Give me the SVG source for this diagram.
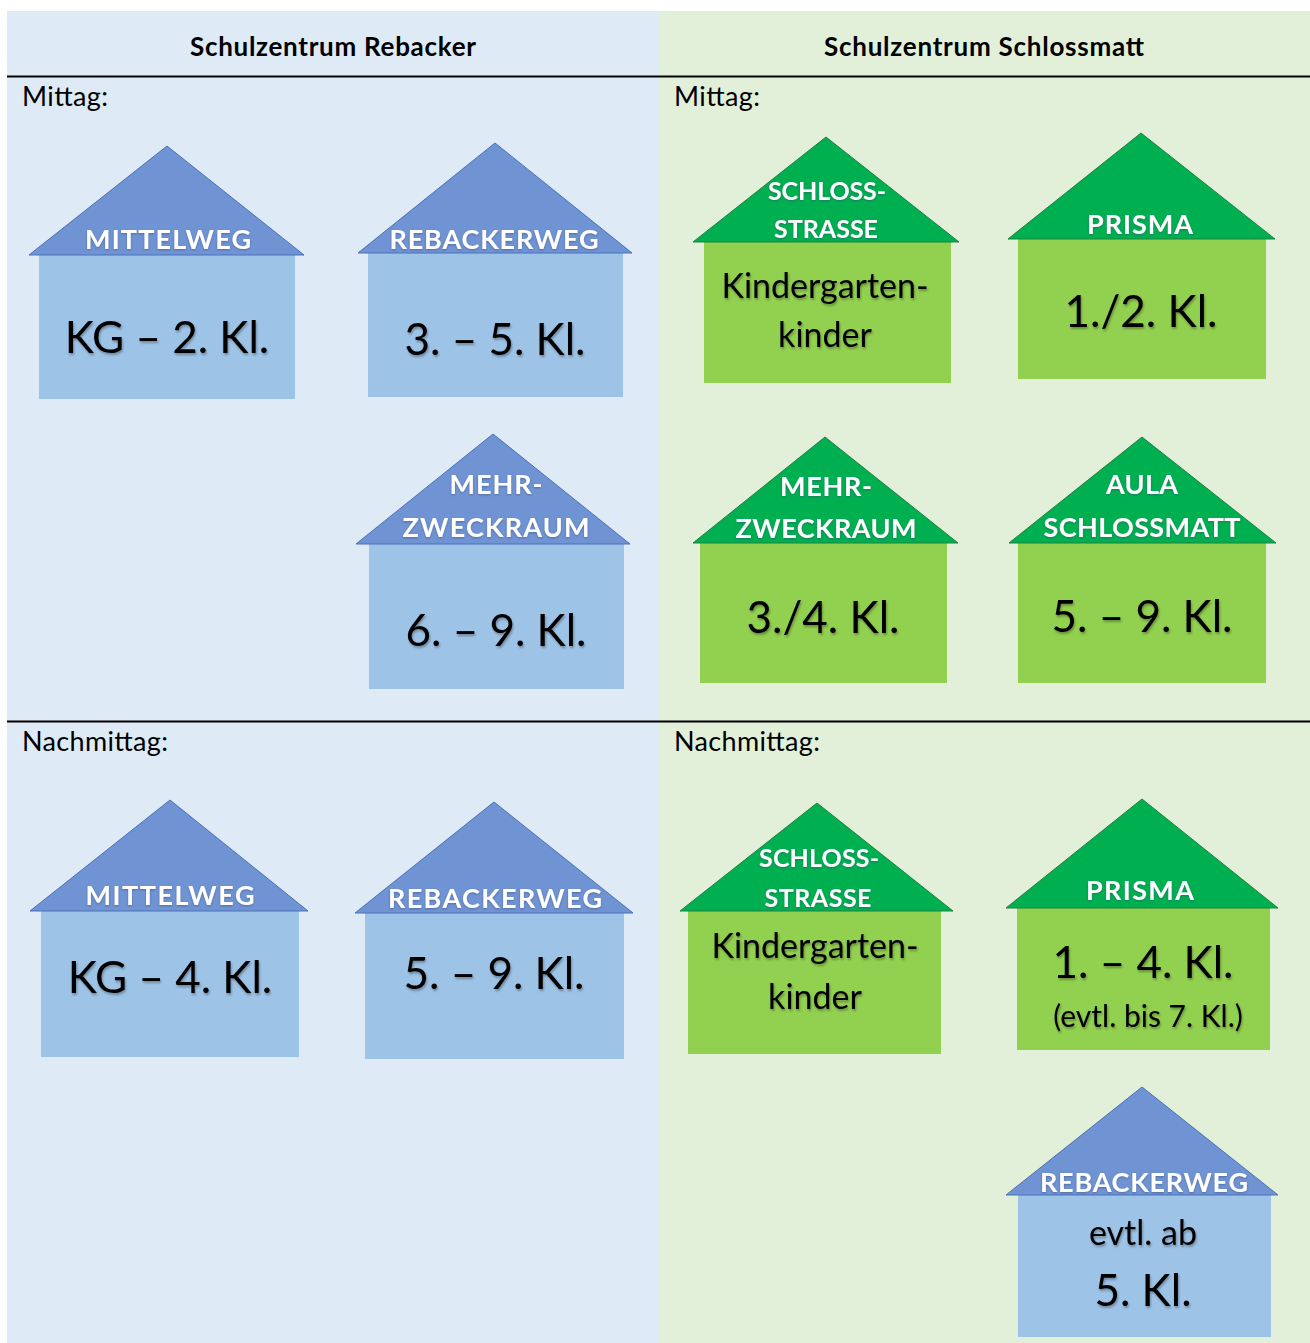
<svg xmlns="http://www.w3.org/2000/svg" width="1310" height="1343" viewBox="0 0 1310 1343">
<style>
.bg-b{fill:#DEEAF6}
.bg-g{fill:#E2EFD9}
.rule{stroke:#000;stroke-width:2}
.hdr{font-family:Lato,"Liberation Sans",sans-serif;font-weight:bold;font-size:26px;fill:#000;text-anchor:middle}
.sec{font-family:Lato,"Liberation Sans",sans-serif;font-size:27px;fill:#000}
.roof-b{fill:#7094D3;stroke:#4A70B8;stroke-width:1}
.body-b{fill:#9DC3E6}
.roof-g{fill:#00B050;stroke:#1E8040;stroke-width:1}
.body-g{fill:#92D050}
.lbl{font-family:Lato,"Liberation Sans",sans-serif;font-weight:bold;font-size:27px;fill:#fff;text-anchor:middle;filter:url(#glow)}
.lbl2{font-size:25px}
.big{font-family:Lato,"Liberation Sans",sans-serif;font-size:44px;fill:#000;text-anchor:middle;filter:url(#sh)}
.mid{font-family:Lato,"Liberation Sans",sans-serif;font-size:34px;fill:#000;text-anchor:middle;filter:url(#sh)}
.sm{font-family:Lato,"Liberation Sans",sans-serif;font-size:30px;fill:#000;text-anchor:middle;filter:url(#sh)}
</style>
<defs>
<filter id="sh" x="-10%" y="-20%" width="120%" height="150%">
<feDropShadow dx="1" dy="2" stdDeviation="1.2" flood-color="#000" flood-opacity="0.3"/>
</filter>
<filter id="glow" x="-10%" y="-30%" width="120%" height="160%">
<feDropShadow dx="0" dy="1" stdDeviation="1.2" flood-color="#304070" flood-opacity="0.5"/>
</filter>
</defs>
<rect x="0" y="0" width="1310" height="1343" fill="#fff"/>
<rect class="bg-b" x="7" y="11" width="652" height="1332"/>
<rect class="bg-g" x="659" y="11" width="651" height="1332"/>
<line class="rule" x1="7" y1="76.5" x2="1310" y2="76.5"/>
<line class="rule" x1="7" y1="721.5" x2="1310" y2="721.5"/>
<text class="hdr" x="333" y="56" textLength="286">Schulzentrum Rebacker</text>
<text class="hdr" x="984" y="56" textLength="320">Schulzentrum Schlossmatt</text>
<text class="sec" x="22" y="106" textLength="86">Mittag:</text>
<text class="sec" x="674" y="106" textLength="86">Mittag:</text>
<text class="sec" x="22" y="751" textLength="146">Nachmittag:</text>
<text class="sec" x="674" y="751" textLength="146">Nachmittag:</text>

<g id="h-mittelweg-mittag">
<rect class="body-b" x="39" y="255" width="256" height="144"/>
<polygon class="roof-b" points="167,146 304,255 29,255"/>
<text class="lbl" x="168" y="249" textLength="166">MITTELWEG</text>
<text class="big" x="167" y="353">KG – 2. Kl.</text>
</g>
<g id="h-rebackerweg-mittag">
<rect class="body-b" x="368" y="253" width="255" height="144"/>
<polygon class="roof-b" points="495,143 632,253 358,253"/>
<text class="lbl" x="494" y="249" textLength="209">REBACKERWEG</text>
<text class="big" x="495" y="355">3. – 5. Kl.</text>
</g>
<g id="h-mehrzweck-rebacker">
<rect class="body-b" x="369" y="544" width="255" height="145"/>
<polygon class="roof-b" points="493,434 630,544 356,544"/>
<text class="lbl" x="496" y="494" textLength="93">MEHR-</text>
<text class="lbl" x="496" y="537" textLength="187">ZWECKRAUM</text>
<text class="big" x="496" y="646">6. – 9. Kl.</text>
</g>
<g id="h-schlossstrasse-mittag">
<rect class="body-g" x="704" y="242" width="247" height="141"/>
<polygon class="roof-g" points="826,137 959,242 693,242"/>
<text class="lbl lbl2" x="827" y="200" textLength="118">SCHLOSS-</text>
<text class="lbl lbl2" x="826" y="238" textLength="104">STRASSE</text>
<text class="mid" x="825" y="298">Kindergarten-</text>
<text class="mid" x="825" y="347">kinder</text>
</g>
<g id="h-prisma-mittag">
<rect class="body-g" x="1018" y="239" width="248" height="140"/>
<polygon class="roof-g" points="1141,133 1275,239 1008,239"/>
<text class="lbl" x="1140" y="234" textLength="106">PRISMA</text>
<text class="big" x="1141" y="327">1./2. Kl.</text>
</g>
<g id="h-mehrzweck-schlossmatt">
<rect class="body-g" x="700" y="543" width="247" height="140"/>
<polygon class="roof-g" points="825,437 958,543 693,543"/>
<text class="lbl" x="826" y="496" textLength="92">MEHR-</text>
<text class="lbl" x="826" y="538" textLength="181">ZWECKRAUM</text>
<text class="big" x="823" y="633">3./4. Kl.</text>
</g>
<g id="h-aula-schlossmatt">
<rect class="body-g" x="1018" y="543" width="248" height="140"/>
<polygon class="roof-g" points="1142,437 1276,543 1009,543"/>
<text class="lbl" x="1142" y="494" textLength="72">AULA</text>
<text class="lbl" x="1142" y="537" textLength="197">SCHLOSSMATT</text>
<text class="big" x="1142" y="632">5. – 9. Kl.</text>
</g>

<g id="h-mittelweg-nachmittag">
<rect class="body-b" x="41" y="911" width="258" height="146"/>
<polygon class="roof-b" points="170,800 308,911 30,911"/>
<text class="lbl" x="170" y="905" textLength="169">MITTELWEG</text>
<text class="big" x="170" y="993">KG – 4. Kl.</text>
</g>
<g id="h-rebackerweg-nachmittag">
<rect class="body-b" x="365" y="913" width="259" height="146"/>
<polygon class="roof-b" points="494,802 633,913 355,913"/>
<text class="lbl" x="495" y="908" textLength="214">REBACKERWEG</text>
<text class="big" x="494" y="989">5. – 9. Kl.</text>
</g>
<g id="h-schlossstrasse-nachmittag">
<rect class="body-g" x="688" y="911" width="253" height="143"/>
<polygon class="roof-g" points="817,803 953,911 680,911"/>
<text class="lbl lbl2" x="819" y="867" textLength="120">SCHLOSS-</text>
<text class="lbl lbl2" x="818" y="907" textLength="107">STRASSE</text>
<text class="mid" x="815" y="958">Kindergarten-</text>
<text class="mid" x="815" y="1009">kinder</text>
</g>
<g id="h-prisma-nachmittag">
<rect class="body-g" x="1017" y="908" width="253" height="142"/>
<polygon class="roof-g" points="1142,799 1278,908 1006,908"/>
<text class="lbl" x="1140" y="900" textLength="108">PRISMA</text>
<text class="big" x="1143" y="978">1. – 4. Kl.</text>
<text class="sm" x="1148" y="1027">(evtl. bis 7. Kl.)</text>
</g>
<g id="h-rebackerweg-schlossmatt">
<rect class="body-b" x="1018" y="1195" width="253" height="142"/>
<polygon class="roof-b" points="1142,1087 1278,1195 1006,1195"/>
<text class="lbl" x="1144" y="1192" textLength="208">REBACKERWEG</text>
<text class="mid" x="1143" y="1245">evtl. ab</text>
<text class="big" x="1143" y="1306">5. Kl.</text>
</g>
<g id="connectors"/>
</svg>
